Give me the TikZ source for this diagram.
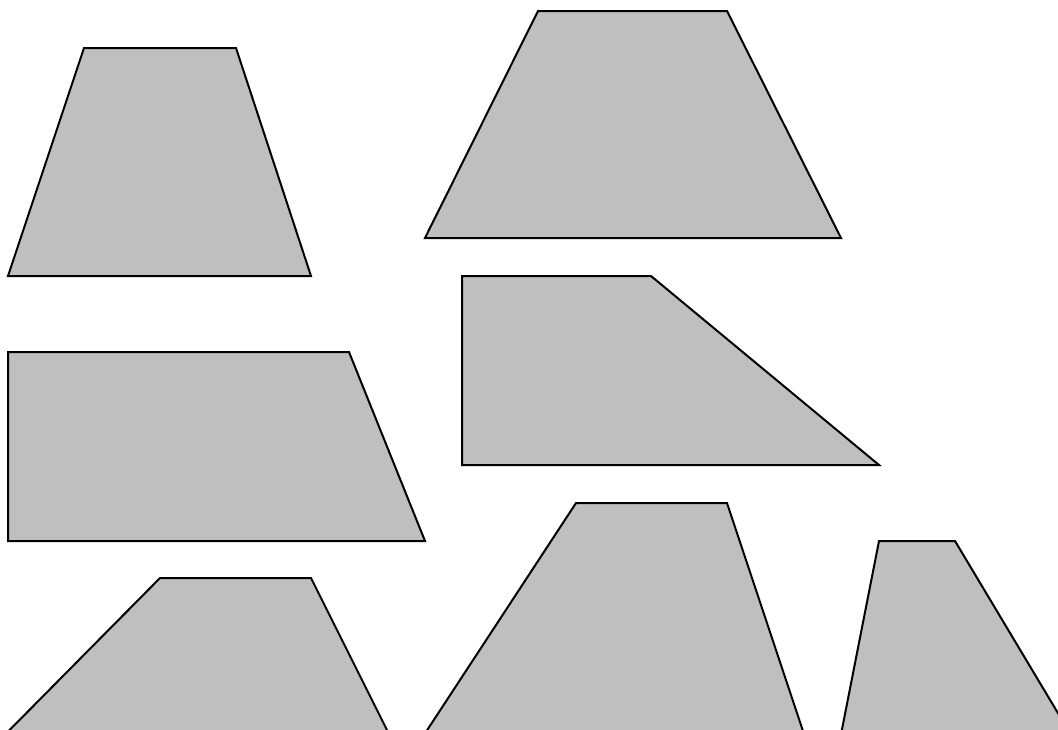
\documentclass[tikz,border=0pt]{standalone}
\usepackage{tikz}
\definecolor{trapgray}{RGB}{191,191,191}

\begin{document}
\begin{tikzpicture}[x=1pt,y=-1pt,
    trap/.style={fill=trapgray,draw=black,line width=2pt,line join=miter}]

  % --- the frame of the page ---
  \useasboundingbox (0,0) rectangle (1058,729);
  \clip (0,0) rectangle (1058,729);

  % --- first row: the two upper trapezoids ---
  \draw[trap] (84,48) -- (236,48) -- (311,276) -- (8,276) -- cycle;
  \draw[trap] (538,11) -- (727,11) -- (841,238) -- (425,238) -- cycle;

  % --- second row: the right-angled ones ---
  \draw[trap] (8,352) -- (349,352) -- (425,541) -- (8,541) -- cycle;
  \draw[trap] (462,276) -- (651,276) -- (879,465) -- (462,465) -- cycle;

  % --- third row: cut off by the lower edge ---
  \draw[trap] (160,578) -- (311,578) -- (407,770) -- (-30,770) -- cycle;
  \draw[trap] (576,503) -- (727,503) -- (816,770) -- (401,770) -- cycle;
  \draw[trap] (879,541) -- (955,541) -- (1092,770) -- (834,770) -- cycle;
\end{tikzpicture}
\end{document}
